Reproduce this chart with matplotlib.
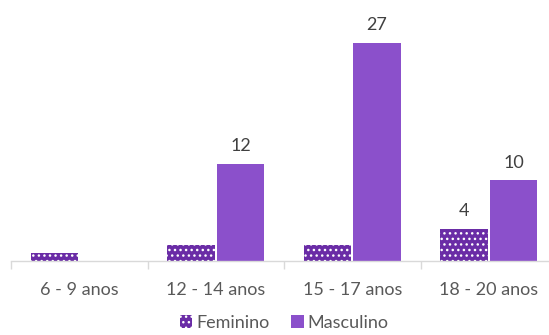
import matplotlib.pyplot as plt
import numpy as np

# ========== DATA ========== #
categories = ["6 - 9 anos", "12 - 14 anos", "15 - 17 anos", "18 - 20 anos"]
feminino = [1, 2, 2, 4]
masculino = [0, 12, 27, 10]
# only these values carry a label in the original chart
fem_labels = ["", "", "", "4"]
mas_labels = ["", "12", "27", "10"]

# ========== STYLE ========== #
plt.rcParams['font.family'] = ['Lato', 'DejaVu Sans']
plt.rcParams['hatch.linewidth'] = 1.0
TEXT_COLOR = "#595959"
FEM_COLOR = "#6a2ca6"
MAS_COLOR = "#8b50cb"
AXIS_COLOR = "#d9d9d9"
FONT_SIZE = 13

fig = plt.figure(figsize=(5.49, 3.35), dpi=100)
ax = fig.add_axes([11 / 549, 74 / 335, 546 / 549, 242 / 335])

x = np.arange(len(categories))
width = 0.35
gap = 0.007

fem_bars = ax.bar(x - width / 2 - gap, feminino, width, color=FEM_COLOR,
                  edgecolor="white", linewidth=0, hatch="...", label="Feminino")
mas_bars = ax.bar(x + width / 2 + gap, masculino, width, color=MAS_COLOR,
                  linewidth=0, label="Masculino")

for bars, labels in [(fem_bars, fem_labels), (mas_bars, mas_labels)]:
    for bar, lab in zip(bars, labels):
        if lab:
            ax.annotate(lab, (bar.get_x() + bar.get_width() / 2, bar.get_height()),
                        xytext=(0, 7), textcoords="offset points",
                        ha="center", va="bottom", fontsize=FONT_SIZE,
                        color="#404040")

ax.set_xlim(-0.5, len(categories) - 0.5)
ax.set_ylim(0, 30)

ax.set_xticks(x)
ax.set_xticklabels(categories)
ax.set_xticks(np.arange(len(categories) + 1) - 0.5, minor=True)
ax.tick_params(axis="x", which="major", length=0, pad=15,
               labelsize=FONT_SIZE, labelcolor=TEXT_COLOR)
ax.tick_params(axis="x", which="minor", length=6, width=1, color=AXIS_COLOR)
ax.set_yticks([])

for side in ["top", "right", "left"]:
    ax.spines[side].set_visible(False)
ax.spines["bottom"].set_color(AXIS_COLOR)
ax.spines["bottom"].set_linewidth(1)

fig.legend(loc="center", bbox_to_anchor=(284 / 549, 1 - 323 / 335), ncol=2,
           frameon=False, fontsize=FONT_SIZE, handlelength=0.7, handleheight=0.7,
           handletextpad=0.2, columnspacing=1.2, labelcolor=TEXT_COLOR)

fig.savefig("out.png", dpi=100)
